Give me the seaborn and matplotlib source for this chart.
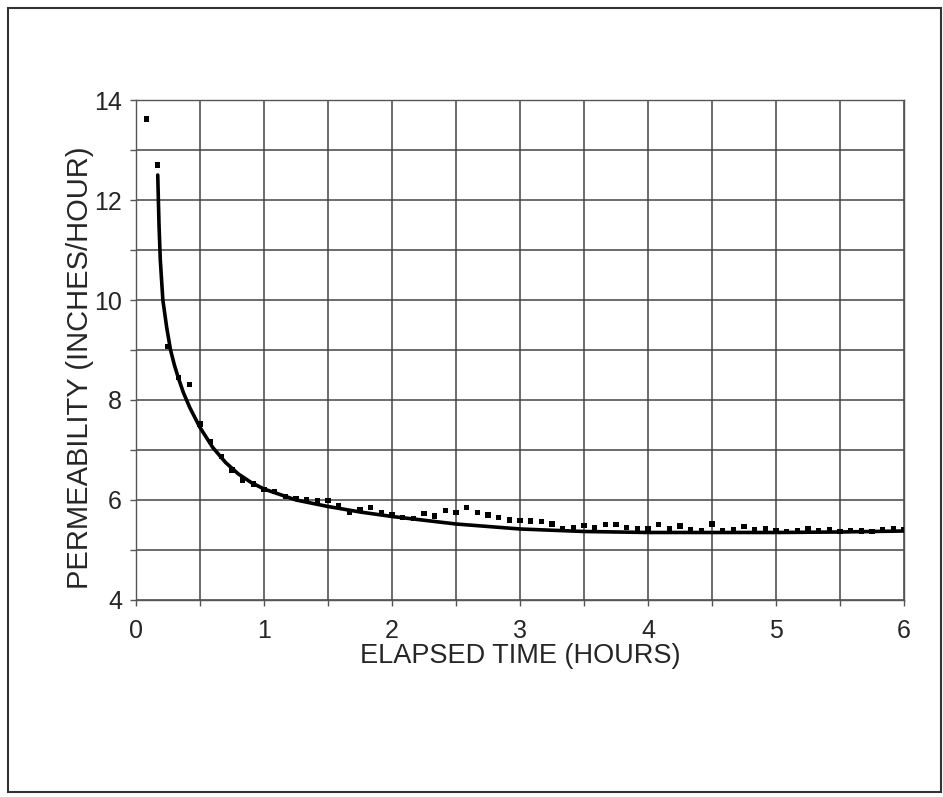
import matplotlib
matplotlib.use("Agg")
import matplotlib.pyplot as plt
from matplotlib.patches import Rectangle
from matplotlib.ticker import MultipleLocator
import pandas as pd
import seaborn as sns

# measured points (hours, inches/hour)
times = [0.08, 0.17, 0.25, 0.33, 0.42, 0.50, 0.58, 0.67, 0.75, 0.83, 0.92, 1.00,
         1.08, 1.17, 1.25, 1.33, 1.42, 1.50, 1.58, 1.67, 1.75, 1.83, 1.92, 2.00,
         2.08, 2.17, 2.25, 2.33, 2.42, 2.50, 2.58, 2.67, 2.75, 2.83, 2.92, 3.00,
         3.08, 3.17, 3.25, 3.33, 3.42, 3.50, 3.58, 3.67, 3.75, 3.83, 3.92, 4.00,
         4.08, 4.17, 4.25, 4.33, 4.42, 4.50, 4.58, 4.67, 4.75, 4.83, 4.92, 5.00,
         5.08, 5.17, 5.25, 5.33, 5.42, 5.50, 5.58, 5.67, 5.75, 5.83, 5.92, 6.00]
perm = [13.62, 12.70, 9.07, 8.45, 8.31, 7.52, 7.17, 6.87, 6.60, 6.40, 6.32, 6.21,
        6.17, 6.07, 6.03, 6.00, 5.98, 5.99, 5.88, 5.75, 5.81, 5.85, 5.75, 5.71,
        5.65, 5.63, 5.73, 5.68, 5.79, 5.75, 5.85, 5.75, 5.70, 5.65, 5.60, 5.59,
        5.58, 5.57, 5.52, 5.43, 5.45, 5.49, 5.45, 5.51, 5.51, 5.45, 5.42, 5.42,
        5.51, 5.42, 5.48, 5.40, 5.39, 5.52, 5.39, 5.40, 5.47, 5.40, 5.43, 5.39,
        5.37, 5.39, 5.43, 5.39, 5.40, 5.37, 5.39, 5.38, 5.37, 5.40, 5.43, 5.41]

# fitted trend line
fit_t = [0.17, 0.175, 0.18, 0.19, 0.21, 0.24, 0.27, 0.30, 0.33, 0.37, 0.42, 0.50,
         0.60, 0.70, 0.80, 0.90, 1.00, 1.25, 1.50, 1.75, 2.00, 2.50, 3.00, 3.50,
         4.00, 4.50, 5.00, 5.50, 6.00]
fit_k = [12.50, 12.0, 11.50, 10.80, 10.00, 9.45, 9.00, 8.70, 8.45, 8.15, 7.85, 7.45,
         7.05, 6.75, 6.52, 6.35, 6.22, 6.00, 5.87, 5.76, 5.67, 5.52, 5.42, 5.37,
         5.35, 5.35, 5.35, 5.36, 5.38]

pts = pd.DataFrame({"t": times, "k": perm})
fit = pd.DataFrame({"t": fit_t, "k": fit_k})

sns.set_style("white")
plt.rcParams["font.family"] = ["Liberation Sans", "DejaVu Sans"]

fig = plt.figure(figsize=(9.43, 7.97), dpi=100)
ax = fig.add_axes([0.1442, 0.2472, 0.8144, 0.6273])

sns.lineplot(data=fit, x="t", y="k", color="black", lw=2.6, ax=ax, zorder=3)
sns.scatterplot(data=pts, x="t", y="k", marker="s", s=14, color="black",
                edgecolor="none", ax=ax, zorder=4)

ax.set_xlim(0, 6)
ax.set_ylim(4, 14)
ax.xaxis.set_major_locator(MultipleLocator(1))
ax.xaxis.set_minor_locator(MultipleLocator(0.5))
ax.yaxis.set_major_locator(MultipleLocator(2))
ax.yaxis.set_minor_locator(MultipleLocator(1))
ax.grid(True, which="both", color="#444444", lw=1.1)
ax.set_axisbelow(True)
ax.tick_params(which="both", direction="out", length=4, width=1, color="#555555",
               labelsize=18, bottom=True, left=True)
ax.tick_params(axis="x", pad=10)
ax.tick_params(axis="y", pad=6)
for s in ax.spines.values():
    s.set_color("#555555")
    s.set_linewidth(1.0)

ax.set_xlabel("ELAPSED TIME (HOURS)", fontsize=19.5, labelpad=0)
ax.set_ylabel("PERMEABILITY (INCHES/HOUR)", fontsize=21)
ax.yaxis.set_label_coords(-0.055, 0.465)

# outer frame of the chart area
fig.patches.append(Rectangle((8 / 943, 5 / 797), 933 / 943, 784 / 797,
                             transform=fig.transFigure, fill=False,
                             edgecolor="#333333", lw=1.5))

fig.savefig("out.png", dpi=100)
